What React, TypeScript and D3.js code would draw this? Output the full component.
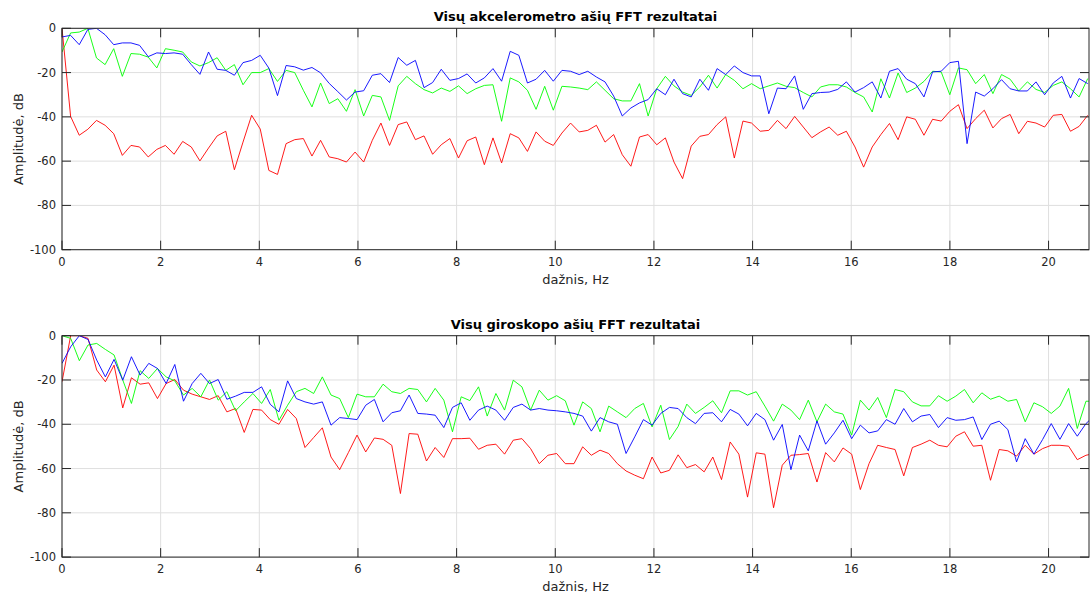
import React from "react";
import * as d3 from "d3";

// ---------- data (dB), index i -> frequency i*df ----------
const ACC_X = [0,-39.8,-48.3,-45.6,-41.6,-43.8,-47.6,-57.4,-52.9,-53.6,-58.1,-54.7,-52.9,-56.9,-51.1,-53.6,-59.9,-54.1,-48.6,-46.5,-63.9,-51.4,-39.3,-45.5,-64.2,-66,-52.1,-50.3,-49.8,-57.7,-50.6,-58.1,-58.9,-60.4,-55.9,-60.4,-50.6,-42.8,-52.9,-43.5,-42.3,-50.3,-48.6,-56.9,-52.6,-49.8,-58.6,-50.8,-49.1,-61.6,-49.5,-60.8,-47.6,-49.5,-55.6,-46.8,-51,-52.9,-47.3,-42.8,-46.8,-46.1,-43.8,-51.4,-48,-57.1,-62.3,-49.1,-48,-52.6,-49.5,-60.4,-67.9,-53.2,-48.8,-48,-43.5,-40,-58.6,-41.9,-42.8,-46.5,-46.1,-41.6,-45.3,-39.8,-44.6,-49.4,-46.8,-44.6,-48.3,-46.5,-53.6,-62.7,-53.6,-48,-43,-50.3,-40,-41.1,-48.3,-41.1,-41.9,-37.5,-34.5,-45.3,-40.8,-37,-45,-40.8,-38.9,-47.6,-42,-42.8,-44.6,-39.3,-38.9,-46.5,-44.3,-39.3];
const ACC_Y = [-10.7,-2.1,-1.7,0,-13.4,-16.4,-9.2,-21.7,-11.4,-11.7,-13,-17.9,-9.2,-9.9,-10.7,-15.2,-17,-15.5,-13.3,-19,-16.4,-25.5,-20,-20,-18.2,-24,-19,-20,-28,-35.5,-24.7,-34,-31.8,-37.5,-27.7,-39.6,-30.3,-31,-41.6,-26,-21.7,-25,-27.7,-29.2,-27,-28.5,-26,-29.5,-27.3,-25.8,-25.5,-42,-22.4,-24.2,-28,-36.6,-26.2,-37,-26.2,-26.5,-27,-27.7,-24.2,-28,-31.8,-32.8,-32.8,-25,-39.6,-27.3,-21.7,-26,-28.8,-30.3,-26.5,-21.2,-27,-20.9,-23.5,-27.3,-25,-27.3,-26,-24.7,-26.2,-26.8,-29,-31,-26.5,-25.5,-25.5,-26.5,-29,-31,-37.8,-22.8,-31.5,-20.2,-29,-27,-24,-19.4,-19.7,-30,-17.9,-18.7,-25,-20.9,-29.5,-20.9,-23,-28.3,-24.2,-27.6,-29,-25.8,-24.2,-27.3,-31,-22.7];
const ACC_Z = [-3.9,-3.2,-7.4,-0.5,0,-2.9,-7.4,-6.6,-6.6,-7.7,-12.8,-11.1,-11.4,-11.1,-11.7,-16.4,-20.8,-10.7,-18.5,-19,-21.2,-15.5,-14.5,-12.2,-18,-30.4,-16.8,-17.4,-18.9,-17.7,-20.1,-24.9,-28.6,-32.4,-28.8,-28.2,-21.2,-20.5,-24.5,-13.2,-16.7,-14.5,-26.8,-24.5,-18.5,-23.5,-22.7,-20.6,-24.7,-22.4,-18.2,-23.9,-10.4,-12.2,-24.7,-23,-19,-23.9,-19,-19.4,-20.9,-19.4,-22,-24.2,-30.6,-39.6,-36,-33.7,-32.2,-27.3,-30,-23,-29.5,-31,-23,-28,-18.2,-20.9,-17,-20,-21.5,-21.5,-38.6,-27,-27.3,-21.5,-36.6,-29.5,-29,-28.8,-27.6,-24.2,-28.8,-26.8,-24.2,-31.5,-19.4,-18.2,-23,-25,-31,-19.7,-19.4,-15.5,-14.9,-52.1,-28.8,-30.6,-27.3,-23.2,-27.3,-28.3,-28.3,-24.2,-30,-24.7,-21.7,-31.5,-22.7,-25];

const GYR_X = [-20.8,0,0,-1.2,-15.5,-20.8,-13.3,-32.6,-19,-21.9,-21.3,-28.4,-21.6,-19.8,-24.6,-26.4,-27.6,-28.8,-27.1,-34.4,-32.9,-43.7,-33.3,-33.6,-37.9,-40,-33.3,-37.4,-50.5,-46,-41.6,-54.8,-60.5,-52.8,-44.9,-52.5,-46.2,-46.8,-49.5,-71.3,-44.2,-44.5,-56.6,-50.5,-55,-46.5,-46.5,-46.3,-51.3,-49.5,-49,-53.5,-47.2,-46.5,-51,-57.8,-54,-53.2,-57.8,-57.8,-50.2,-54,-51.7,-53.2,-57.8,-61.1,-63,-64.6,-54.8,-62,-60.8,-53.8,-59.6,-58.2,-61.5,-54.8,-65,-48,-53.5,-72.9,-52.9,-53.5,-77.7,-58.5,-54,-53.7,-53.2,-66.1,-52.8,-57,-50.7,-53.5,-69.5,-57.8,-49.5,-50.5,-51.4,-63.3,-50.5,-49,-47.2,-49.5,-50.2,-45.4,-43.4,-49.9,-49.5,-65.3,-51.4,-52,-54.4,-49.5,-53.5,-51,-49.5,-49.5,-49.9,-56,-54,-53.2];
const GYR_Y = [0,-1.2,-11.3,-4.2,-3.5,-6.2,-8.7,-20,-30.6,-15.8,-19.3,-14.8,-18.6,-20.4,-26.8,-23.8,-27.6,-20,-29.1,-25.3,-33.9,-29.9,-26.1,-30.6,-24.3,-38.2,-31.4,-25.3,-23.8,-26.1,-18.6,-26.8,-28.4,-37,-26.4,-27.6,-27.6,-21.9,-25.3,-26.1,-23.8,-24.3,-29.9,-23.8,-29.1,-43.4,-27.6,-29.3,-23.1,-36.3,-26.1,-33.6,-20.1,-23.1,-33.6,-24.6,-29.1,-27.1,-29.4,-40.4,-29.9,-32.9,-43.4,-31.8,-34.4,-37,-32.9,-30.6,-41.2,-31.4,-46.9,-41,-30.9,-35.1,-32.4,-29.4,-34.8,-24.9,-24.9,-26.8,-25.3,-31.8,-38.6,-30.9,-33.6,-37.9,-29.1,-38.9,-30.9,-34.4,-35.4,-44.9,-29.1,-33.6,-27.9,-37,-24.3,-25.3,-29.9,-31.7,-31.7,-27.1,-29.6,-27.3,-24.3,-30.3,-25.8,-28.7,-27.3,-29.6,-28.8,-38.9,-30.3,-32.1,-35.1,-31.8,-23.8,-41.9,-29.6,-29.6];
const GYR_Z = [-12.5,-5,0,-1.7,-11,-18.6,-10.7,-20.1,-9.5,-17.8,-12.5,-14.8,-21.6,-13,-29.6,-21.6,-17,-21.6,-19.8,-28.7,-27.3,-25.6,-25.6,-23.1,-31,-34.4,-20.4,-28.4,-29.9,-30.9,-29.9,-40.4,-37,-37.4,-37.9,-31.4,-28.8,-38.9,-34.8,-33.9,-26.8,-35.1,-35.4,-35.9,-41.5,-32.4,-30.3,-38.2,-33.6,-31.8,-33.6,-38.2,-32.4,-30.9,-33.6,-32.9,-33.6,-33.9,-34.4,-35.1,-36.3,-43.1,-37,-38.9,-40,-53.2,-45.7,-37.9,-40.4,-35.1,-32.4,-32.9,-37,-39.7,-35.1,-34.8,-38.9,-33.3,-35.4,-40.7,-35.1,-37.9,-47.2,-40.1,-60.5,-44.9,-52,-38.5,-49,-43.9,-38.2,-46.5,-40.4,-43.9,-43,-37.9,-40,-32.9,-38.9,-36.3,-35.6,-41.5,-37,-38.2,-37.9,-36.7,-46.9,-40,-38.6,-42.4,-57,-46.5,-53.5,-46.9,-39.7,-46.8,-39.7,-45.4,-39.7,-36];

const X_TICKS = [0, 2, 4, 6, 8, 10, 12, 14, 16, 18, 20];
const Y_TICKS = [0, -20, -40, -60, -80, -100];
const ACC_DF = 0.17474;
const GYR_DF = 0.17592;
const X_MAX = 20.82;

const TITLE_ACC = "Visų akcelerometro ašių FFT rezultatai";
const TITLE_GYR = "Visų giroskopo ašių FFT rezultatai";
const X_LABEL = "dažnis, Hz";
const Y_LABEL = "Amplitudė, dB";

const FONT = "DejaVu Sans, sans-serif";
const AX = "#262626";
const GRID = "#dfdfdf";

type PanelProps = {
  id: string;
  top: number;
  title: string;
  red: number[];
  green: number[];
  blue: number[];
  df: number;
};

function Panel({ id, top, title, red, green, blue, df }: PanelProps) {
  const left = 62;
  const right = 1089;
  const h = 221.4;
  const bottom = top + h;
  const x = d3.scaleLinear().domain([0, X_MAX]).range([left, right]);
  const y = d3.scaleLinear().domain([-100, 0]).range([bottom, top]);
  const line = d3
    .line<number>()
    .x((_, i) => x(i * df))
    .y((d) => y(d));
  const tl = 9;
  return (
    <g>
      <defs>
        <clipPath id={id}>
          <rect x={left} y={top} width={right - left} height={h} />
        </clipPath>
      </defs>
      {X_TICKS.map((t) => (
        <line key={"gx" + t} x1={x(t)} x2={x(t)} y1={top} y2={bottom} stroke={GRID} strokeWidth={1} />
      ))}
      {Y_TICKS.map((t) => (
        <line key={"gy" + t} x1={left} x2={right} y1={y(t)} y2={y(t)} stroke={GRID} strokeWidth={1} />
      ))}
      <g clipPath={`url(#${id})`} fill="none" strokeWidth={0.9} strokeLinejoin="round">
        <path d={line(red) || ""} stroke="#ff0000" />
        <path d={line(green) || ""} stroke="#00ff00" />
        <path d={line(blue) || ""} stroke="#0000ff" />
      </g>
      <rect x={left} y={top} width={right - left} height={h} fill="none" stroke={AX} strokeWidth={1} />
      {X_TICKS.map((t) => (
        <g key={"tx" + t}>
          <line x1={x(t)} x2={x(t)} y1={bottom} y2={bottom - tl} stroke={AX} />
          <line x1={x(t)} x2={x(t)} y1={top} y2={top + tl} stroke={AX} />
          <text x={x(t)} y={bottom + 16} textAnchor="middle" fontSize={11.5} fill={AX} fontFamily={FONT}>
            {String(t)}
          </text>
        </g>
      ))}
      {Y_TICKS.map((t) => (
        <g key={"ty" + t}>
          <line x1={left} x2={left + tl} y1={y(t)} y2={y(t)} stroke={AX} />
          <line x1={right} x2={right - tl} y1={y(t)} y2={y(t)} stroke={AX} />
          <text x={left - 6} y={y(t) + 4} textAnchor="end" fontSize={11.5} fill={AX} fontFamily={FONT}>
            {String(t)}
          </text>
        </g>
      ))}
      <text x={(left + right) / 2} y={top - 7} textAnchor="middle" fontSize={13} fontWeight="bold" fill="#000" fontFamily={FONT}>
        {title}
      </text>
      <text x={(left + right) / 2} y={bottom + 34} textAnchor="middle" fontSize={13} fill={AX} fontFamily={FONT}>
        {X_LABEL}
      </text>
      <text
        transform={`translate(23,${(top + bottom) / 2}) rotate(-90)`}
        textAnchor="middle"
        fontSize={13}
        fill={AX}
        fontFamily={FONT}
      >
        {Y_LABEL}
      </text>
    </g>
  );
}

export default function App() {
  return (
    <svg
      width={1090}
      height={594}
      style={{ position: "absolute", left: 0, top: 0, background: "#fff" }}
    >
      <rect x={0} y={0} width={1090} height={594} fill="#fff" />
      <Panel id="clipAcc" top={28.3} title={TITLE_ACC} red={ACC_X} green={ACC_Y} blue={ACC_Z} df={ACC_DF} />
      <Panel id="clipGyr" top={335.7} title={TITLE_GYR} red={GYR_X} green={GYR_Y} blue={GYR_Z} df={GYR_DF} />
    </svg>
  );
}
